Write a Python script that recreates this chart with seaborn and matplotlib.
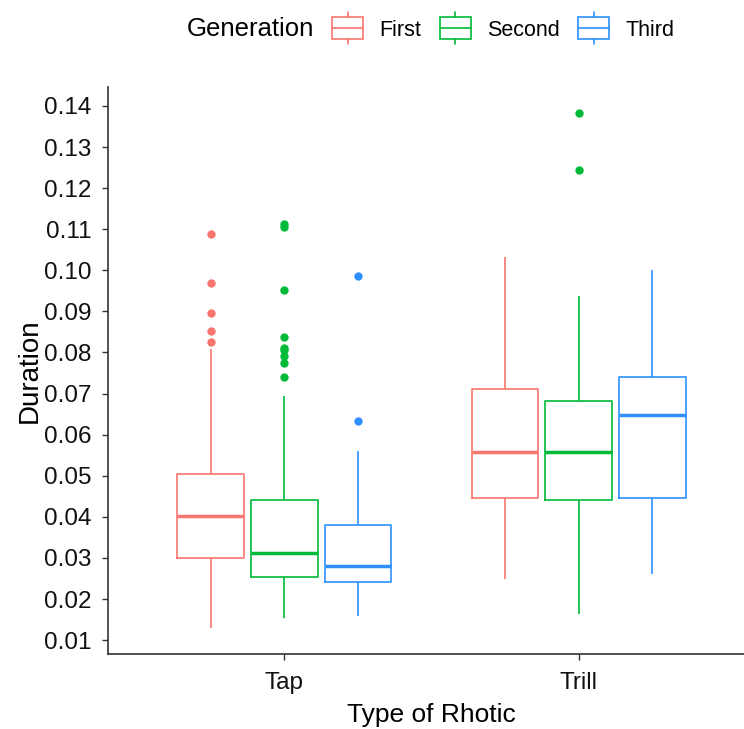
import matplotlib
matplotlib.use("Agg")
import matplotlib.pyplot as plt
from matplotlib.patches import Rectangle
from matplotlib.lines import Line2D
from matplotlib.legend_handler import HandlerBase
import pandas as pd
import seaborn as sns

# Categories
rhotic_types = ["Tap", "Trill"]
generations = ["First", "Second", "Third"]
palette = {"First": "#F8766D", "Second": "#00BA38", "Third": "#2E90FF"}

# Box summaries, order:
# Tap-First, Tap-Second, Tap-Third, Trill-First, Trill-Second, Trill-Third
whisker_low = [0.0129, 0.0154, 0.0158, 0.0248, 0.0163, 0.0261]
lower_quartile = [0.0300, 0.0253, 0.0241, 0.0446, 0.0441, 0.0446]
medians = [0.0402, 0.0312, 0.0280, 0.0558, 0.0558, 0.0648]
upper_quartile = [0.0504, 0.0441, 0.0380, 0.0711, 0.0682, 0.0740]
whisker_high = [0.0808, 0.0694, 0.0560, 0.1032, 0.0937, 0.1001]
outliers = [
    [0.0825, 0.0852, 0.0896, 0.0969, 0.1088],
    [0.0740, 0.0774, 0.0791, 0.0806, 0.0811, 0.0838, 0.0952, 0.1105, 0.1112],
    [0.0633, 0.0986],
    [],
    [0.1244, 0.1383],
    [],
]

y_ticks = [0.01, 0.02, 0.03, 0.04, 0.05, 0.06, 0.07, 0.08, 0.09, 0.10, 0.11, 0.12, 0.13, 0.14]


def rebuild_sample(lo, q1, med, q3, hi, out, m=12):
    # values placed so the quartiles, whisker ends and outliers land where read
    vals = [lo] + [q1] * m + [med] * m + [q3] * m
    vals += [q3] * (m - 1 - len(out)) + [hi] + list(out)
    return vals


rows = []
i = 0
for rt in rhotic_types:
    for gen in generations:
        sample = rebuild_sample(whisker_low[i], lower_quartile[i], medians[i],
                                upper_quartile[i], whisker_high[i], outliers[i])
        for v in sample:
            rows.append({"Type of Rhotic": rt, "Generation": gen, "Duration": v})
        i += 1
df = pd.DataFrame(rows)

sns.set_style("white")
plt.rcParams["font.family"] = ["Liberation Sans", "DejaVu Sans"]
plt.rcParams["text.color"] = "black"
plt.rcParams["axes.labelcolor"] = "black"

fig = plt.figure(figsize=(7.44, 7.29), dpi=100)
ax = fig.add_axes([108 / 744, 1 - 654 / 729, (755 - 108) / 744, (654 - 87) / 729])

sns.boxplot(data=df, x="Type of Rhotic", y="Duration", hue="Generation",
            order=rhotic_types, hue_order=generations, palette=palette,
            fill=False, width=0.75, gap=0.09, whis=1.5, linewidth=1.2,
            showcaps=False, medianprops={"linewidth": 2.5},
            flierprops={"marker": "o", "markersize": 6},
            legend=False, ax=ax)

# filled outlier dots like ggplot
for ln in ax.lines:
    if ln.get_marker() == "o":
        ln.set_markerfacecolor(ln.get_markeredgecolor())
        ln.set_markeredgewidth(0)

ax.set_xlim(-0.6, 1.6)
ax.set_ylim(0.00663, 0.1446)
ax.set_yticks(y_ticks)
ax.set_yticklabels([f"{t:.2f}" for t in y_ticks])

sns.despine(ax=ax)
for side in ["left", "bottom"]:
    ax.spines[side].set_color("#333333")
    ax.spines[side].set_linewidth(1.2)
ax.tick_params(axis="both", direction="out", length=4, width=1.0, color="#333333",
               labelsize=17.5, labelcolor="#111111", left=True, bottom=True)
ax.tick_params(axis="y", pad=8)
ax.tick_params(axis="x", pad=9)
ax.set_xlabel("Type of Rhotic", fontsize=19, labelpad=6.5)
ax.set_ylabel("Duration", fontsize=20, labelpad=1)


class BoxKeyHandler(HandlerBase):
    def create_artists(self, legend, orig_handle, xdescent, ydescent, width, height,
                       fontsize, trans):
        c = orig_handle.get_color()
        cy = height / 2 - ydescent
        bh = height * 1.35
        rect = Rectangle((-xdescent, cy - bh / 2), width, bh, facecolor="white",
                         edgecolor=c, linewidth=1.2, transform=trans)
        mid = Line2D([-xdescent, -xdescent + width], [cy, cy], color=c, lw=1.2, transform=trans)
        cx = -xdescent + width / 2
        top = Line2D([cx, cx], [cy + bh / 2, cy + bh / 2 + height * 0.35], color=c, lw=1.2, transform=trans)
        bot = Line2D([cx, cx], [cy - bh / 2, cy - bh / 2 - height * 0.35], color=c, lw=1.2, transform=trans)
        return [rect, mid, top, bot]


handles = [Line2D([], [], color=palette[g]) for g in generations]
fig.legend(handles, generations, loc="center left", bbox_to_anchor=(332 / 744, 1 - 30 / 729),
           ncol=3, frameon=False, fontsize=15.5, handlelength=1.45, handleheight=0.75,
           handletextpad=0.75, columnspacing=0.85, borderpad=0, borderaxespad=0,
           handler_map={Line2D: BoxKeyHandler()})
fig.text(187 / 744, 1 - 29 / 729, "Generation", fontsize=18.5, ha="left", va="center")

fig.savefig("out.png", dpi=100)
